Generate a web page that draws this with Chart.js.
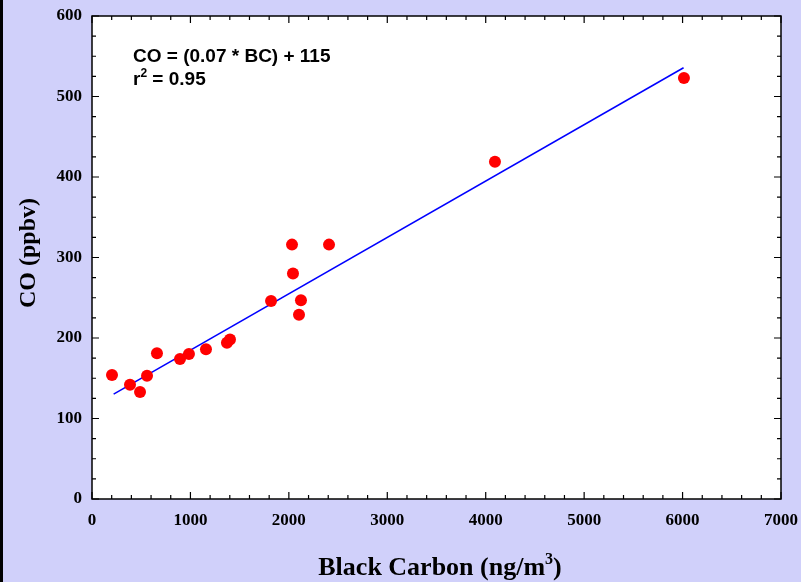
<!DOCTYPE html>
<html>
<head>
<meta charset="utf-8">
<script src="https://cdn.jsdelivr.net/npm/chart.js@4.4.1/dist/chart.umd.min.js"></script>
<style>
  html, body { margin: 0; padding: 0; background: #d0d0fa; }
  #wrap { width: 801px; height: 582px; }
</style>
</head>
<body>
<div id="wrap"><canvas id="chart" width="801" height="582"></canvas></div>
<script>
  // Black carbon (ng/m3) vs CO (ppbv).
  var bcValues = [203, 386, 488, 559, 660, 894, 985, 1158, 1371, 1402, 1819, 2032, 2042, 2103, 2123, 2408, 4094, 6014];
  var coValues = [154, 142, 133, 153, 181, 174, 180, 186, 194, 198, 246, 316, 280, 229, 247, 316, 419, 523];

  // Regression line: CO = 0.07 * BC + 115
  var fitSlope = 0.07;
  var fitIntercept = 115;
  var fitRange = [220, 6010];

  var xTicks = [0, 1000, 2000, 3000, 4000, 5000, 6000, 7000];
  var yTicks = [0, 100, 200, 300, 400, 500, 600];

  var BG = '#d0d0fa';
  var INK = '#000000';
  var SERIF = '"Liberation Serif", "Times New Roman", serif';
  var SANS = '"Liberation Sans", Arial, sans-serif';

  var scatterPoints = bcValues.map(function (x, i) { return { x: x, y: coValues[i] }; });
  var fitPoints = fitRange.map(function (x) { return { x: x, y: fitSlope * x + fitIntercept }; });

  /**
   * Draw text with a raised small part: parts = [[text, isSup], ...].
   * x is the centre (align 'center') or left edge (align 'left'); y is baseline.
   */
  function drawRich(ctx, parts, x, y, size, family, align) {
    var supSize = Math.round(size * 0.62);
    var total = 0;
    parts.forEach(function (p) {
      ctx.font = 'bold ' + (p[1] ? supSize : size) + 'px ' + family;
      total += ctx.measureText(p[0]).width;
    });
    var cx = align === 'center' ? x - total / 2 : x;
    ctx.textAlign = 'left';
    ctx.textBaseline = 'alphabetic';
    parts.forEach(function (p) {
      ctx.font = 'bold ' + (p[1] ? supSize : size) + 'px ' + family;
      ctx.fillText(p[0], cx, p[1] ? y - size * 0.42 : y);
      cx += ctx.measureText(p[0]).width;
    });
  }

  /**
   * Page background, plot frame, inward ticks on all four sides, labels.
   */
  var framePlugin = {
    id: 'frame',
    beforeDraw: function (chart) {
      var ctx = chart.ctx;
      var a = chart.chartArea;
      ctx.save();
      ctx.fillStyle = BG;
      ctx.fillRect(0, 0, chart.width, chart.height);
      ctx.fillStyle = INK;
      ctx.fillRect(0, 0, 3, chart.height);
      ctx.fillStyle = '#ffffff';
      ctx.fillRect(a.left, a.top, a.right - a.left, a.bottom - a.top);
      ctx.restore();
    },
    afterDraw: function (chart) {
      var ctx = chart.ctx;
      var a = chart.chartArea;
      var xs = chart.scales.x;
      var ys = chart.scales.y;
      var v, p, len;
      ctx.save();
      ctx.strokeStyle = INK;
      ctx.lineWidth = 1.5;
      ctx.strokeRect(a.left, a.top, a.right - a.left, a.bottom - a.top);

      ctx.lineWidth = 1.2;
      ctx.beginPath();
      // x ticks, minor every 200
      for (v = 0; v <= 7000; v += 200) {
        p = xs.getPixelForValue(v);
        len = v % 1000 === 0 ? 7 : 4;
        ctx.moveTo(p, a.bottom); ctx.lineTo(p, a.bottom - len);
        ctx.moveTo(p, a.top); ctx.lineTo(p, a.top + len);
      }
      // y ticks, minor every 25
      for (v = 0; v <= 600; v += 25) {
        p = ys.getPixelForValue(v);
        len = v % 100 === 0 ? 7 : 4;
        ctx.moveTo(a.left, p); ctx.lineTo(a.left + len, p);
        ctx.moveTo(a.right, p); ctx.lineTo(a.right - len, p);
      }
      ctx.stroke();

      // axis titles
      ctx.fillStyle = INK;
      drawRich(ctx, [['Black Carbon (ng/m', false], ['3', true], [')', false]], 440, 575, 26, SERIF, 'center');
      ctx.save();
      ctx.translate(35, 253);
      ctx.rotate(-Math.PI / 2);
      drawRich(ctx, [['CO (ppbv)', false]], 0, 0, 24, SERIF, 'center');
      ctx.restore();

      // regression annotation
      drawRich(ctx, [['CO = (0.07 * BC) + 115', false]], 133, 62, 19, SANS, 'left');
      drawRich(ctx, [['r', false], ['2', true], [' = 0.95', false]], 133, 85, 19, SANS, 'left');
      ctx.restore();
    }
  };

  function plainLabel(v) { return String(v); }

  new Chart(document.getElementById('chart').getContext('2d'), {
    type: 'scatter',
    data: {
      datasets: [{
        label: 'fit',
        type: 'line',
        data: fitPoints,
        borderColor: '#0000ff',
        borderWidth: 1.5,
        pointRadius: 0,
        fill: false,
        order: 2
      }, {
        label: 'samples',
        data: scatterPoints,
        backgroundColor: '#ff0000',
        borderColor: '#ff0000',
        pointRadius: 6,
        borderWidth: 0,
        order: 1
      }]
    },
    options: {
      responsive: false,
      animation: false,
      layout: { padding: { top: 16, right: 20, left: 0, bottom: 0 } },
      plugins: { legend: { display: false }, tooltip: { enabled: false } },
      scales: {
        x: {
          type: 'linear',
          min: 0,
          max: 7000,
          afterBuildTicks: function (s) { s.ticks = xTicks.map(function (v) { return { value: v }; }); },
          afterFit: function (s) { s.height = 83; s.paddingLeft = 0; s.paddingRight = 0; },
          grid: { display: false, drawTicks: false },
          border: { display: false },
          ticks: { padding: 11, color: INK, font: { family: SERIF, size: 17, weight: 'bold' }, maxRotation: 0, callback: plainLabel }
        },
        y: {
          type: 'linear',
          min: 0,
          max: 600,
          afterBuildTicks: function (s) { s.ticks = yTicks.map(function (v) { return { value: v }; }); },
          afterFit: function (s) { s.width = 92; s.paddingTop = 0; s.paddingBottom = 0; },
          grid: { display: false, drawTicks: false },
          border: { display: false },
          ticks: { padding: 10, color: INK, font: { family: SERIF, size: 17, weight: 'bold' }, callback: plainLabel }
        }
      }
    },
    plugins: [framePlugin]
  });
</script>
</body>
</html>
